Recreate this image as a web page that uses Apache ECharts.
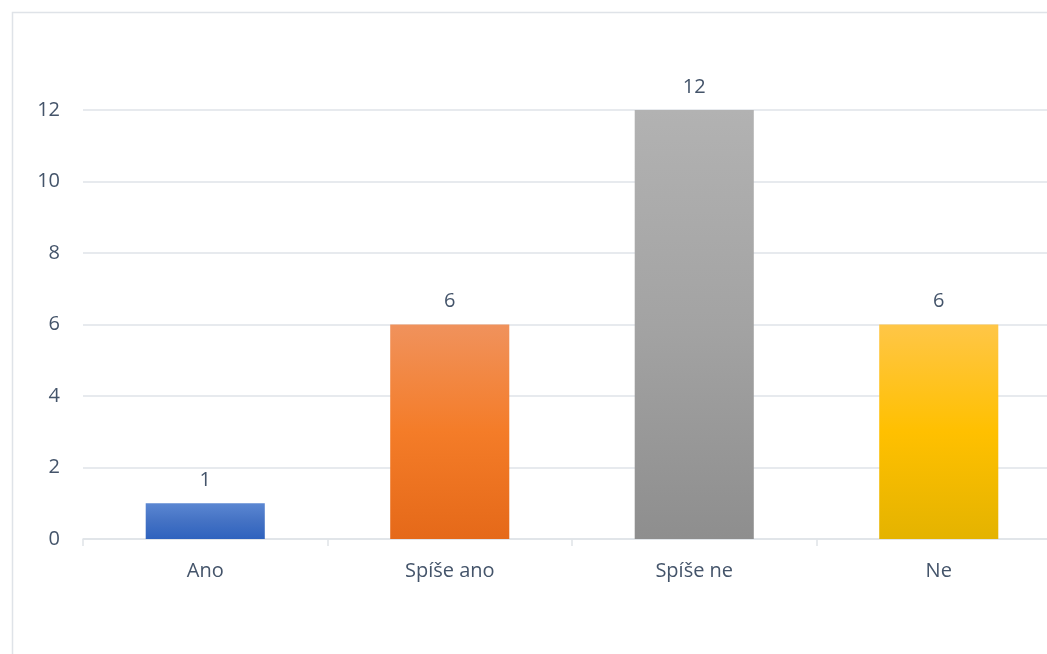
<!DOCTYPE html>
<html>
<head>
<meta charset="utf-8">
<script src="https://cdn.jsdelivr.net/npm/echarts@6/dist/echarts.min.js"></script>
<style>html,body{margin:0;padding:0;background:#fff;}#c{width:1047px;height:654px;}</style>
</head>
<body>
<div id="c"></div>
<script>
const categories = ['Ano', 'Spíše ano', 'Spíše ne', 'Ne'];
const values = [1, 6, 12, 6];
const yTicks = [0, 2, 4, 6, 8, 10, 12];
const topColors = ['#5b87d2', '#f0925c', '#b2b2b2', '#ffc647'];
const midColors = ['#4472c4', '#f47c28', '#a3a3a3', '#ffc000'];
const bottomColors = ['#2e62be', '#e56919', '#8e8e8e', '#e4b300'];

const chart = echarts.init(document.getElementById('c'), null, {renderer: 'canvas'});
const font = "'Open Sans', 'Noto Sans', sans-serif";
chart.setOption({
  animation: false,
  backgroundColor: '#fff',
  graphic: [{
    type: 'rect', left: 10, top: 10,
    shape: {x: 0, y: 0, width: 1100, height: 700},
    style: {fill: 'none', stroke: '#dfe3e8', lineWidth: 1.5},
    silent: true, z: -10
  }],
  grid: {left: 83, top: 110, height: 429, width: 978, containLabel: false, outerBoundsMode: 'none'},
  xAxis: {
    type: 'category',
    data: categories,
    axisLine: {lineStyle: {color: '#dfe3e8', width: 1.5}},
    axisTick: {show: true, length: 7, lineStyle: {color: '#dfe3e8', width: 1.5}},
    axisLabel: {color: '#44546a', fontSize: 20, fontFamily: font, margin: 22}
  },
  yAxis: {
    type: 'value', min: yTicks[0], max: yTicks[yTicks.length - 1], interval: 2,
    axisLine: {show: false},
    axisTick: {show: false},
    splitLine: {lineStyle: {color: '#dfe3e8', width: 1.5}},
    axisLabel: {color: '#44546a', fontSize: 20, fontFamily: font, margin: 23}
  },
  series: [{
    type: 'bar',
    barWidth: '48.7%',
    data: values.map((v, i) => ({
      value: v,
      itemStyle: {
        color: new echarts.graphic.LinearGradient(0, 0, 0, 1, [
          {offset: 0, color: topColors[i]},
          {offset: 0.5, color: midColors[i]},
          {offset: 1, color: bottomColors[i]}
        ])
      }
    })),
    label: {show: true, position: 'top', distance: 13, color: '#44546a', fontSize: 20, fontFamily: font}
  }]
});
</script>
</body>
</html>
